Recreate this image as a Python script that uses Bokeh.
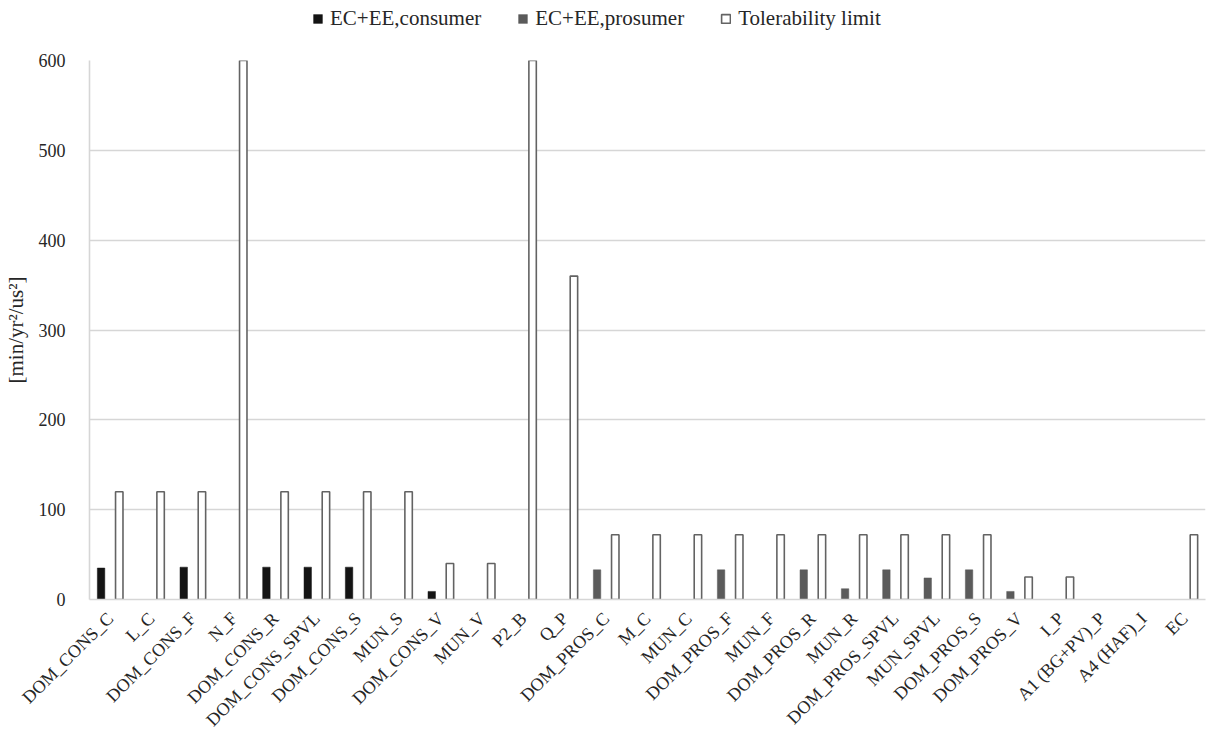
import math
from bokeh.plotting import figure
from bokeh.layouts import column
from bokeh.models import ColumnDataSource, FactorRange, Range1d, Legend, LegendItem, SingleIntervalTicker
from bokeh.transform import dodge
from bokeh.embed import file_html
from bokeh.resources import INLINE

categories = ["DOM_CONS_C", "L_C", "DOM_CONS_F", "N_F", "DOM_CONS_R", "DOM_CONS_SPVL",
              "DOM_CONS_S", "MUN_S", "DOM_CONS_V", "MUN_V", "P2_B", "Q_P", "DOM_PROS_C",
              "M_C", "MUN_C", "DOM_PROS_F", "MUN_F", "DOM_PROS_R", "MUN_R", "DOM_PROS_SPVL",
              "MUN_SPVL", "DOM_PROS_S", "DOM_PROS_V", "I_P", "A1 (BG+PV)_P", "A4 (HAF)_I", "EC"]

consumer = [35, None, 36, None, 36, 36, 36, None, 9, None, None, None, None,
            None, None, None, None, None, None, None, None, None, None, None, None, None, None]
prosumer = [None, None, None, None, None, None, None, None, None, None, None, None, 33,
            None, None, 33, None, 33, 12, 33, 24, 33, 9, None, None, None, None]
tolerability = [120, 120, 120, 600, 120, 120, 120, 120, 40, 40, 600, 360, 72,
                72, 72, 72, 72, 72, 72, 72, 72, 72, 25, 25, None, None, 72]

series_names = ["EC+EE,consumer", "EC+EE,prosumer", "Tolerability limit"]
series_values = [consumer, prosumer, tolerability]
y_ticks_step = 100


def make_source(vals):
    xs = [c for c, v in zip(categories, vals) if v is not None]
    ys = [v for v in vals if v is not None]
    return ColumnDataSource(dict(x=xs, top=ys))


FONT = "Liberation Serif"
STYLES = [dict(fill_color="#141414", line_color="#141414", line_width=0.5),
          dict(fill_color="#5b5b5b", line_color="#5b5b5b", line_width=0.5),
          dict(fill_color="white", line_color="#636363", line_width=1.6)]
OFFSETS = [-0.22, -0.22, 0.22]
BW = 0.18

# ---- main chart ----
p = figure(x_range=FactorRange(*categories), y_range=Range1d(0, 600),
           width=1208, height=690, output_backend="svg", toolbar_location=None,
           min_border_left=88, min_border_right=3, min_border_top=10, min_border_bottom=140)

for vals, off, st in zip(series_values, OFFSETS, STYLES):
    p.vbar(x=dodge("x", off, range=p.x_range), top="top", width=BW, source=make_source(vals), **st)

p.outline_line_color = None
p.xgrid.grid_line_color = None
p.ygrid.grid_line_color = "#d6d6d6"
p.ygrid.grid_line_width = 1.6

p.yaxis.ticker = SingleIntervalTicker(interval=y_ticks_step)
p.yaxis.axis_line_color = "#d6d6d6"
p.yaxis.axis_line_width = 1.6
p.yaxis.major_tick_line_color = None
p.yaxis.minor_tick_line_color = None
p.yaxis.major_label_text_font = FONT
p.yaxis.major_label_text_font_size = "18px"
p.yaxis.major_label_text_color = "#262626"
p.yaxis.major_label_standoff = 18
p.yaxis.axis_label = "[min/yr²/us²]"
p.yaxis.axis_label_text_font = FONT
p.yaxis.axis_label_text_font_size = "21px"
p.yaxis.axis_label_text_font_style = "normal"
p.yaxis.axis_label_text_color = "#262626"
p.yaxis.axis_label_standoff = 8

p.xaxis.axis_line_color = "#d6d6d6"
p.xaxis.axis_line_width = 1.6
p.xaxis.major_tick_line_color = None
p.xaxis.minor_tick_line_color = None
p.xaxis.major_label_orientation = math.pi / 4
p.xaxis.major_label_text_font = FONT
p.xaxis.major_label_text_font_size = "18px"
p.xaxis.major_label_text_color = "#262626"
p.xaxis.major_label_standoff = 10

# ---- legend strip on top (same series as hidden proxies) ----
lf = figure(width=1208, height=50, x_range=FactorRange(*categories), y_range=Range1d(0, 600),
            output_backend="svg", toolbar_location=None, x_axis_type=None, y_axis_type=None,
            min_border_left=0, min_border_right=0, min_border_top=0, min_border_bottom=0)
lf.outline_line_color = None
lf.grid.grid_line_color = None
leg_renderers = [lf.vbar(x="x", top="top", width=BW, source=make_source(vals), visible=False, **st)
                 for vals, st in zip(series_values, STYLES)]

legend = Legend(items=[LegendItem(label=n, renderers=[r]) for n, r in zip(series_names, leg_renderers)],
                orientation="horizontal", location=(223, 19),
                label_text_font=FONT, label_text_font_size="21px", label_text_color="#262626",
                glyph_width=11, glyph_height=11, label_standoff=7, spacing=36,
                padding=0, margin=0, border_line_color=None, background_fill_alpha=0,
                inactive_fill_alpha=0)
lf.add_layout(legend, "center")

layout = column(lf, p, spacing=0)
open("out.html", "w").write(file_html(layout, INLINE))
